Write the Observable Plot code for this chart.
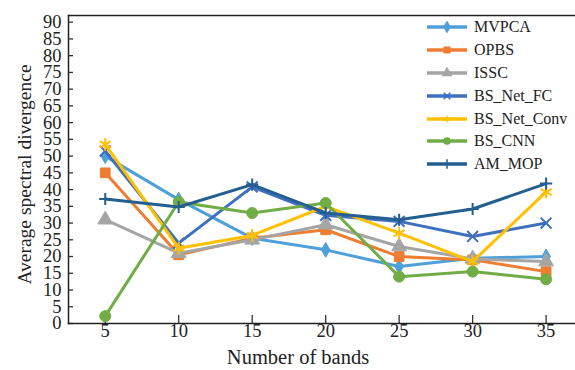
<!DOCTYPE html>
<html><head><meta charset="utf-8">
<script src="https://cdn.jsdelivr.net/npm/d3@7"></script>
<script src="https://cdn.jsdelivr.net/npm/@observablehq/plot@0.6"></script>
<style>
html,body{margin:0;padding:0;background:#fff;}
#wrap{position:relative;width:575px;height:370px;overflow:hidden;font-family:"Liberation Serif","DejaVu Serif",serif;}
#legend{position:absolute;left:426px;top:16px;font-size:16px;color:#222;}
.row{display:flex;align-items:center;height:22.8px;}
.row svg{margin-right:6px;}
</style></head>
<body><div id="wrap"><div id="chart"></div><div id="legend"></div></div>
<script>
const bands = [5, 10, 15, 20, 25, 30, 35];
const seriesNames = ["MVPCA", "OPBS", "ISSC", "BS_Net_FC", "BS_Net_Conv", "BS_CNN", "AM_MOP"];
const MVPCA = [50, 37, 25.5, 22, 17, 19.5, 20];
const OPBS = [45, 20.5, 25.5, 28, 20, 19, 15.5];
const ISSC = [31, 21, 25, 29.5, 23, 19.3, 18.5];
const BS_Net_FC = [51.5, 24, 40.8, 32.3, 30.5, 26, 30];
const BS_Net_Conv = [53.5, 22.5, 26.3, 35, 27, 18.5, 39.3];
const BS_CNN = [2.2, 36.3, 33, 36, 14, 15.5, 13.2];
const AM_MOP = [37.2, 34.8, 41.5, 33, 31, 34.2, 41.8];
const yTicks = d3.range(0, 91, 5);
const xTicks = bands;

const values = [MVPCA, OPBS, ISSC, BS_Net_FC, BS_Net_Conv, BS_CNN, AM_MOP];
const colors = ["#4FA0DA", "#ED7D31", "#A5A5A5", "#3F6FBF", "#FFC000", "#70AD47", "#255E91"];
const symbols = ["diamond", "square", "triangle", "times", "asterisk", "circle", "plus"];
const radii = [4.5, 5.5, 5.5, 5, 6, 5.5, 4];
const filled = [true, true, true, false, false, true, false];

const data = [];
seriesNames.forEach((s, i) => bands.forEach((b, j) => data.push({series: s, idx: i, band: b, value: values[i][j]})));

const marks = [];
seriesNames.forEach((s, i) => {
  const d = data.filter(r => r.series === s);
  marks.push(Plot.line(d, {x: "band", y: "value", stroke: colors[i], strokeWidth: 3}));
  marks.push(Plot.dot(d, {x: "band", y: "value", symbol: () => symbols[i], r: radii[i],
    fill: filled[i] ? colors[i] : "none", stroke: colors[i], strokeWidth: filled[i] ? 1 : 2}));
});

const chart = Plot.plot({
  width: 575, height: 370,
  marginLeft: 68, marginRight: 0, marginTop: 15, marginBottom: 47,
  style: {fontFamily: '"Liberation Serif","DejaVu Serif",serif', fontSize: "18px", background: "white", color: "#222"},
  x: {domain: [2.5, 37.0]},
  y: {domain: [0, 92]},
  marks: [
    Plot.axisX({ticks: xTicks, tickSize: -8, tickPadding: 8, label: null, fontSize: 18.5, stroke: "#333", strokeWidth: 1.3}),
    Plot.axisY({ticks: yTicks, tickSize: -5, tickPadding: 12, label: null, fontSize: 18.5, stroke: "#333", strokeWidth: 1.3}),
    Plot.frame({anchor: "left", stroke: "#222", strokeWidth: 1.5}),
    Plot.frame({anchor: "bottom", stroke: "#222", strokeWidth: 1.5}),
    Plot.frame({anchor: "top", stroke: "#222", strokeWidth: 1.5}),
    ...marks,
    Plot.text(["Average spectral divergence"], {frameAnchor: "left", textAnchor: "middle", rotate: -90, dx: -44, dy: 5, fontSize: 19.5, fill: "#222"}),
    Plot.text(["Number of bands"], {frameAnchor: "bottom", dy: 40, dx: -24, fontSize: 20.5, fill: "#222"})
  ]
});
document.getElementById("chart").appendChild(chart);

const symMap = {diamond: d3.symbolDiamond, square: d3.symbolSquare, triangle: d3.symbolTriangle, times: d3.symbolTimes, asterisk: d3.symbolAsterisk, circle: d3.symbolCircle, plus: d3.symbolPlus};
const legend = document.getElementById("legend");
seriesNames.forEach((s, i) => {
  const row = document.createElement("div");
  row.className = "row";
  const sym = d3.symbol(symMap[symbols[i]], 30)();
  row.innerHTML = `<svg width="42" height="12"><line x1="1" x2="41" y1="6" y2="6" stroke="${colors[i]}" stroke-width="3.5"/>` +
    `<path d="${sym}" transform="translate(21,6)" fill="${filled[i] ? colors[i] : "none"}" stroke="${colors[i]}" stroke-width="1.5"/></svg><span>${s}</span>`;
  legend.appendChild(row);
});
</script></body></html>
